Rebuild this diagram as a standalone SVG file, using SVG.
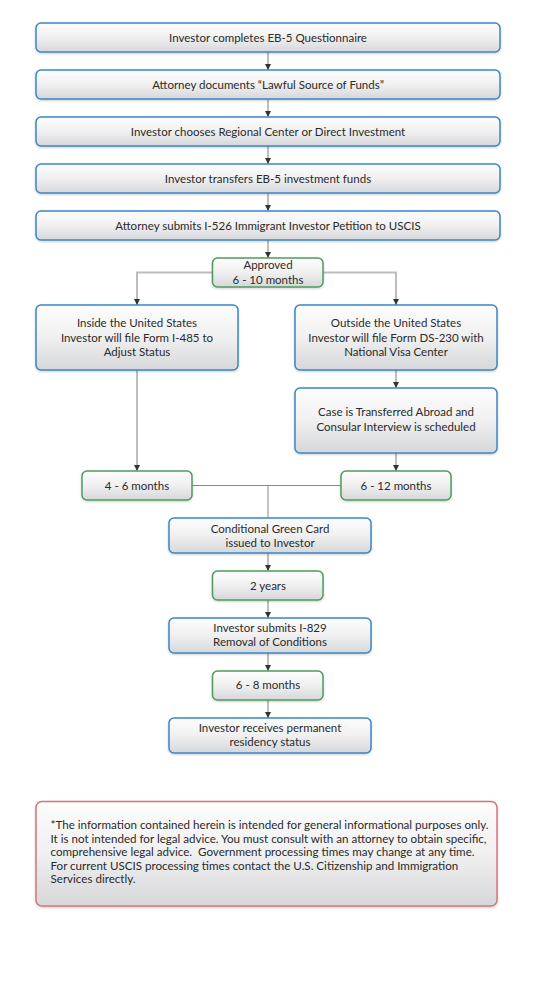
<svg xmlns="http://www.w3.org/2000/svg" width="540" height="1000" viewBox="0 0 540 1000">
<defs>
<linearGradient id="g" x1="0" y1="0" x2="0" y2="1">
<stop offset="0" stop-color="#fdfdfd"/>
<stop offset="0.5" stop-color="#f0f0f1"/>
<stop offset="1" stop-color="#d6d7d9"/>
</linearGradient>
<marker id="ah" viewBox="0 0 6 6" refX="6" refY="3" markerWidth="6" markerHeight="6" markerUnits="userSpaceOnUse" orient="auto">
<path d="M0,0 L6,3 L0,6 z" fill="#333"/>
</marker>
<filter id="sh" x="-5%" y="-10%" width="110%" height="130%">
<feDropShadow dx="0" dy="1" stdDeviation="0.8" flood-color="#000" flood-opacity="0.2"/>
</filter>
</defs>
<style>
rect{fill:url(#g);filter:url(#sh);stroke-width:1.5}
.b rect{stroke:#3b86c6}
.gr rect{stroke:#4f9a5e}
.r rect{stroke:#d8737c}
text{font-family:Lato,"Liberation Sans",sans-serif;font-size:11.5px;fill:#2a2a2a;text-anchor:middle}
.d text{text-anchor:start;font-size:11.6px}
.c path{fill:none;stroke:#bdbdbd;stroke-width:2}
.c path.a{marker-end:url(#ah)}
.c path.t{stroke:#8a8a8a;stroke-width:1}
</style>
<rect x="0" y="0" width="540" height="1000" style="fill:#fff;filter:none;stroke:none"/>
<g class="c" id="connectors">
<path class="a" d="M268,52 V70"/>
<path class="a" d="M268,99 V117"/>
<path class="a" d="M268,146 V164"/>
<path class="a" d="M268,193 V211"/>
<path class="a" d="M268,240 V258"/>
<path class="a" d="M212,272.5 H137 V305"/>
<path class="a" d="M323,272.5 H396 V305"/>
<path class="a" d="M137,370 V471"/>
<path class="a" d="M396,370 V388"/>
<path class="a" d="M396,453 V471"/>
<path class="t" d="M192,485.5 H341"/>
<path class="t" d="M268,485.5 V518"/>
<path class="a" d="M268,553 V571"/>
<path class="a" d="M268,600 V618"/>
<path class="a" d="M268,653 V671"/>
<path class="a" d="M268,700 V718"/>
</g>
<g id="n1" class="b"><rect x="36" y="23" width="464" height="29" rx="5"/><text x="268" y="42">Investor completes EB-5 Questionnaire</text></g>
<g id="n2" class="b"><rect x="36" y="70" width="464" height="29" rx="5"/><text x="268" y="89">Attorney documents “Lawful Source of Funds”</text></g>
<g id="n3" class="b"><rect x="36" y="117" width="464" height="29" rx="5"/><text x="268" y="136">Investor chooses Regional Center or Direct Investment</text></g>
<g id="n4" class="b"><rect x="36" y="164" width="464" height="29" rx="5"/><text x="268" y="183">Investor transfers EB-5 investment funds</text></g>
<g id="n5" class="b"><rect x="36" y="211" width="464" height="29" rx="5"/><text x="268" y="230">Attorney submits I-526 Immigrant Investor Petition to USCIS</text></g>
<g id="n6" class="gr"><rect x="212.5" y="258" width="110.5" height="29" rx="5"/><text x="268" y="269">Approved</text><text x="268" y="284">6 - 10 months</text></g>
<g id="n7" class="b"><rect x="36" y="305" width="202" height="65" rx="5"/><text x="137" y="327">Inside the United States</text><text x="137" y="341.5">Investor will file Form I-485 to</text><text x="137" y="356">Adjust Status</text></g>
<g id="n8" class="b"><rect x="295" y="305" width="202" height="65" rx="5"/><text x="396" y="327">Outside the United States</text><text x="396" y="341.5">Investor will file Form DS-230 with</text><text x="396" y="356">National Visa Center</text></g>
<g id="n9" class="b"><rect x="295" y="388" width="202" height="65" rx="5"/><text x="396" y="416">Case is Transferred Abroad and</text><text x="396" y="430.5">Consular Interview is scheduled</text></g>
<g id="n10" class="gr"><rect x="82" y="471" width="110" height="29" rx="5"/><text x="137" y="490">4 - 6 months</text></g>
<g id="n11" class="gr"><rect x="341" y="471" width="110" height="29" rx="5"/><text x="396" y="490">6 - 12 months</text></g>
<g id="n12" class="b"><rect x="169" y="518" width="202" height="35" rx="5"/><text x="270" y="533">Conditional Green Card</text><text x="270" y="547">issued to Investor</text></g>
<g id="n13" class="gr"><rect x="212.5" y="571" width="110.5" height="29" rx="5"/><text x="268" y="590">2 years</text></g>
<g id="n14" class="b"><rect x="169" y="618" width="202" height="35" rx="5"/><text x="270" y="632">Investor submits I-829</text><text x="270" y="646">Removal of Conditions</text></g>
<g id="n15" class="gr"><rect x="212.5" y="671" width="110.5" height="29" rx="5"/><text x="268" y="689">6 - 8 months</text></g>
<g id="n16" class="b"><rect x="169" y="718" width="202" height="35" rx="5"/><text x="270" y="732">Investor receives permanent</text><text x="270" y="746">residency status</text></g>
<g id="disclaimer" class="r d"><rect x="36" y="801.5" width="461" height="104.5" rx="6"/>
<text x="50.5" y="829">*The information contained herein is intended for general informational purposes only.</text>
<text x="50.5" y="842.5">It is not intended for legal advice. You must consult with an attorney to obtain specific,</text>
<text x="50.5" y="856">comprehensive legal advice.&#160; Government processing times may change at any time.</text>
<text x="50.5" y="869.5">For current USCIS processing times contact the U.S. Citizenship and Immigration</text>
<text x="50.5" y="883">Services directly.</text>
</g>
</svg>
